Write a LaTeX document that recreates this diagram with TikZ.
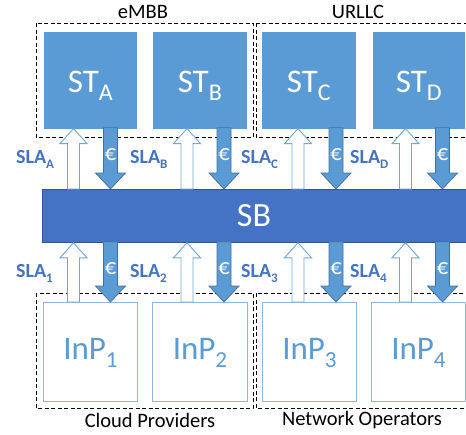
\documentclass[tikz,border=0pt]{standalone}
\usepackage{fontspec}
\setmainfont{Carlito}
\usetikzlibrary{calc}

\definecolor{tileblue}{HTML}{5B9BD5}
\definecolor{brokerblue}{HTML}{4472C4}
\definecolor{brokeredge}{HTML}{2F5597}
\definecolor{payedge}{HTML}{41719C}
\definecolor{inpedge}{HTML}{8DB9E2}
\definecolor{slaedge}{HTML}{6FA8DC}

% lowered subscript: text, font size, drop
\newcommand\lowsub[3]{\raisebox{-#3}{\fontsize{#2}{#2}\selectfont #1}}

\tikzset{
  tenant/.style={fill=tileblue, draw=tileblue, line width=0.6pt, inner sep=0pt, anchor=north west},
  broker/.style={fill=brokerblue, draw=brokeredge, line width=0.8pt, inner sep=0pt, anchor=north west},
  infra/.style={fill=white, draw=inpedge, line width=0.9pt, inner sep=0pt, anchor=north west},
  group/.style={draw=black, line width=0.8pt, dash pattern=on 4pt off 2.5pt},
  grouptxt/.style={font=\fontsize{20.5}{20.5}\selectfont, text=black, inner sep=0pt},
  tenanttxt/.style={font=\fontsize{33}{33}\selectfont, text=white, inner sep=0pt, anchor=base},
  infratxt/.style={font=\fontsize{33}{33}\selectfont, text=tileblue, inner sep=0pt, anchor=base},
  slatxt/.style={font=\fontsize{20}{20}\selectfont\bfseries, text=brokerblue, inner sep=0pt, anchor=base west},
  hollow/.style={fill=white, draw=slaedge, line width=0.9pt, line join=miter},
  payarrow/.style={fill=tileblue, draw=payedge, line width=0.7pt, line join=miter},
  eurotxt/.style={font=\fontsize{22.5}{22.5}\selectfont, text=white, inner sep=0pt},
}

% hollow SLA arrow pointing up: upper node, lower node, x position
\newcommand\slaup[3]{%
  \path[hollow] let \p1=(#1.south), \p2=(#2.north) in
    (#3-6,\y2) -- (#3-6,\y1-15pt) -- (#3-13.5,\y1-15pt) -- (#3,\y1)
    -- (#3+13.5,\y1-15pt) -- (#3+6,\y1-15pt) -- (#3+6,\y2) -- cycle;}

% filled payment arrow pointing down: upper node, lower node, x position
\newcommand\paydown[3]{%
  \path[payarrow] let \p1=(#1.south), \p2=(#2.north) in
    (#3-7,\y1+1pt) -- (#3-7,\y2+16pt) -- (#3-15,\y2+16pt) -- (#3,\y2)
    -- (#3+15,\y2+16pt) -- (#3+7,\y2+16pt) -- (#3+7,\y1+1pt) -- cycle
    (#3,\y1-26pt) node[eurotxt] {€};}

\begin{document}
\begin{tikzpicture}[x=1pt, y=-1pt]
\useasboundingbox (0,0) rectangle (466,434);

% group frames
\draw[group] (36,23) rectangle (253,137);
\draw[group] (256,23) rectangle (472,137);
\draw[group] (36,293) rectangle (253,408);
\draw[group] (256,293) rectangle (472,408);

\node[grouptxt] (gA) at (143,12) {eMBB};
\node[grouptxt] (gB) at (358,12) {URLLC};
\node[grouptxt] (gC) at (150,420) {Cloud Providers};
\node[grouptxt] (gD) at (362,420) {Network Operators};

% slice tenants
\node[tenant, minimum width=92pt, minimum height=96pt] (sta) at (44,32) {};
\node[tenant, minimum width=93pt, minimum height=96pt] (stb) at (153,32) {};
\node[tenant, minimum width=93pt, minimum height=96pt] (stc) at (262,32) {};
\node[tenant, minimum width=91pt, minimum height=96pt] (std) at (373,32) {};

\node[tenanttxt] (ta) at ($(sta.south)+(0,-36)$) {ST\lowsub{A}{24}{8pt}};
\node[tenanttxt] (tb) at ($(stb.south)+(0,-36)$) {ST\lowsub{B}{24}{8pt}};
\node[tenanttxt] (tc) at ($(stc.south)+(0,-36)$) {ST\lowsub{C}{24}{8pt}};
\node[tenanttxt] (td) at ($(std.south)+(0,-36)$) {ST\lowsub{D}{24}{8pt}};

% slice broker
\node[broker, minimum width=424pt, minimum height=53pt] (sb) at (42,189) {};
\node[font=\fontsize{34}{34}\selectfont, text=white, inner sep=0pt] (sbt) at (254,216) {SB};

% infrastructure providers
\node[infra, minimum width=94pt, minimum height=99pt] (ip1) at (43,302) {};
\node[infra, minimum width=95pt, minimum height=99pt] (ip2) at (152,302) {};
\node[infra, minimum width=94pt, minimum height=99pt] (ip3) at (262,302) {};
\node[infra, minimum width=94pt, minimum height=99pt] (ip4) at (371,302) {};

\node[infratxt] (i1) at ($(ip1.south)+(0,-42)$) {InP\lowsub{1}{23}{8pt}};
\node[infratxt] (i2) at ($(ip2.south)+(0,-42)$) {InP\lowsub{2}{23}{8pt}};
\node[infratxt] (i3) at ($(ip3.south)+(0,-42)$) {InP\lowsub{3}{23}{8pt}};
\node[infratxt] (i4) at ($(ip4.south)+(0,-42)$) {InP\lowsub{4}{23}{8pt}};

% tenant <-> broker
\slaup{sta}{sb}{73.5}   \paydown{sta}{sb}{110.5}
\slaup{stb}{sb}{187}    \paydown{stb}{sb}{224}
\slaup{stc}{sb}{298}    \paydown{stc}{sb}{336}
\slaup{std}{sb}{405.5}  \paydown{std}{sb}{442.5}

% broker <-> providers
\slaup{sb}{ip1}{73.5}   \paydown{sb}{ip1}{110.5}
\slaup{sb}{ip2}{187}    \paydown{sb}{ip2}{224}
\slaup{sb}{ip3}{298}    \paydown{sb}{ip3}{336}
\slaup{sb}{ip4}{405.5}  \paydown{sb}{ip4}{442.5}

% agreement labels
\node[slatxt] (la) at (16,163) {SLA\lowsub{A}{13}{5pt}};
\node[slatxt] (lb) at (130,163) {SLA\lowsub{B}{13}{5pt}};
\node[slatxt] (lc) at (241,163) {SLA\lowsub{C}{13}{5pt}};
\node[slatxt] (ld) at (350,163) {SLA\lowsub{D}{13}{5pt}};
\node[slatxt] (l1) at (16,277) {SLA\lowsub{1}{13}{5pt}};
\node[slatxt] (l2) at (130,277) {SLA\lowsub{2}{13}{5pt}};
\node[slatxt] (l3) at (241,277) {SLA\lowsub{3}{13}{5pt}};
\node[slatxt] (l4) at (350,277) {SLA\lowsub{4}{13}{5pt}};
\end{tikzpicture}
\end{document}
